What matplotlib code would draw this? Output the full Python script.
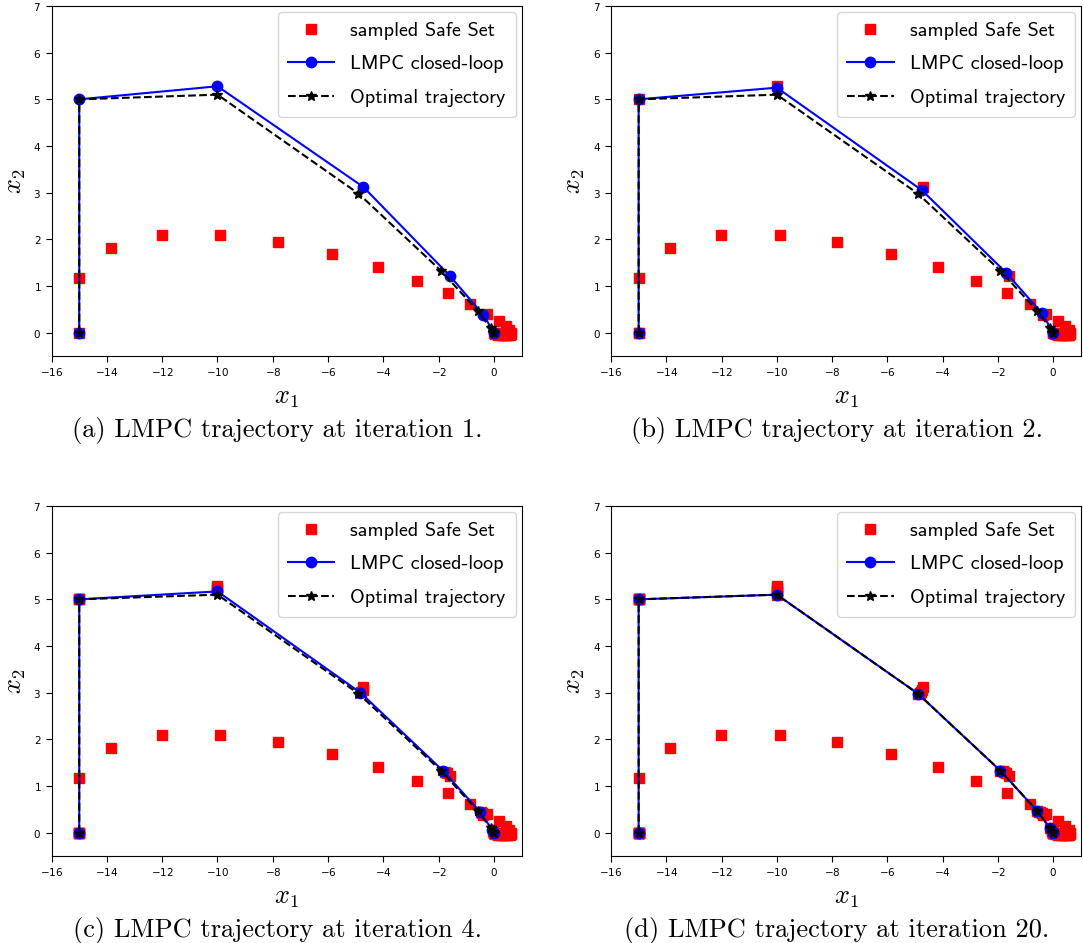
import matplotlib
matplotlib.use("Agg")
import matplotlib.pyplot as plt

plt.rcParams['mathtext.fontset'] = 'cm'
plt.rcParams['axes.formatter.use_mathtext'] = True
plt.rcParams['axes.unicode_minus'] = True

# ---------------- data ----------------
# initial feasible trajectory (iteration 0)
it0_x1 = [-15.0, -15.0, -13.85, -12.02, -9.90, -7.82, -5.86, -4.19, -2.78, -1.66, -0.85, -0.25,
          0.17, 0.42, 0.56, 0.62, 0.62, 0.58, 0.52, 0.45, 0.38, 0.30, 0.23, 0.16, 0.10, 0.05, 0.02, 0.0]
it0_x2 = [0.0, 1.17, 1.81, 2.10, 2.10, 1.94, 1.69, 1.41, 1.11, 0.84, 0.61, 0.39,
          0.25, 0.14, 0.06, 0.00, -0.03, -0.05, -0.06, -0.06, -0.06, -0.05, -0.05, -0.04, -0.03, -0.02, -0.01, 0.0]

# LMPC closed-loop trajectories
it1_x1 = [-15.0, -15.0, -10.0, -4.72, -1.60, -0.38, 0.0]
it1_x2 = [0.0, 5.0, 5.28, 3.12, 1.22, 0.38, 0.0]
it2_x1 = [-15.0, -15.0, -10.0, -4.75, -1.70, -0.42, 0.0]
it2_x2 = [0.0, 5.0, 5.25, 3.05, 1.28, 0.42, 0.0]
it3_x1 = [-15.0, -15.0, -10.0, -4.80, -1.78, -0.48, -0.04, 0.0]
it3_x2 = [0.0, 5.0, 5.20, 3.02, 1.30, 0.44, 0.04, 0.0]
it4_x1 = [-15.0, -15.0, -10.0, -4.83, -1.83, -0.51, -0.06, 0.0]
it4_x2 = [0.0, 5.0, 5.17, 3.00, 1.32, 0.45, 0.06, 0.0]
it20_x1 = [-15.0, -15.0, -10.0, -4.90, -1.92, -0.59, -0.12, -0.02, 0.0]
it20_x2 = [0.0, 5.0, 5.10, 2.98, 1.33, 0.47, 0.10, 0.02, 0.0]

# optimal trajectory
opt_x1 = [-15.0, -15.0, -10.0, -4.90, -1.92, -0.59, -0.12, -0.02, 0.0]
opt_x2 = [0.0, 5.0, 5.10, 2.98, 1.33, 0.47, 0.10, 0.02, 0.0]

xticks = list(range(-16, 1, 2))
yticks = list(range(0, 8))
captions = ["(a) LMPC trajectory at iteration 1.",
            "(b) LMPC trajectory at iteration 2.",
            "(c) LMPC trajectory at iteration 4.",
            "(d) LMPC trajectory at iteration 20."]

# safe sets: stored trajectories used at each displayed iteration
safe_sets = [
    [(it0_x1, it0_x2)],
    [(it0_x1, it0_x2), (it1_x1, it1_x2)],
    [(it0_x1, it0_x2), (it1_x1, it1_x2), (it2_x1, it2_x2), (it3_x1, it3_x2)],
    [(it0_x1, it0_x2), (it1_x1, it1_x2), (it2_x1, it2_x2), (it3_x1, it3_x2),
     (it4_x1, it4_x2), (it20_x1, it20_x2)],
]
closed_loop = [(it1_x1, it1_x2), (it2_x1, it2_x2), (it4_x1, it4_x2), (it20_x1, it20_x2)]

W, H = 1083, 943
fig = plt.figure(figsize=(W / 100, H / 100), dpi=100)

ax_w, ax_h = 470, 350
lefts = [51.6, 611.0]
tops = [6.0, 506.0]

for k in range(4):
    r, c = divmod(k, 2)
    l = lefts[c]
    t = tops[r]
    ax = fig.add_axes([l / W, 1 - (t + ax_h) / H, ax_w / W, ax_h / H])
    first = True
    for sx, sy in safe_sets[k]:
        ax.plot(sx, sy, 's', color='red', ms=6.5, mec='red',
                label='sampled Safe Set' if first else None, zorder=2)
        first = False
    cx, cy = closed_loop[k]
    ax.plot(cx, cy, '-o', color='blue', lw=1.5, ms=7.5, label='LMPC closed-loop', zorder=3)
    ax.plot(opt_x1, opt_x2, '--*', color='black', lw=1.5, ms=7.5, label='Optimal trajectory', zorder=4)
    ax.set_xlim(-16, 1)
    ax.set_ylim(-0.5, 7)
    ax.set_xticks(xticks)
    ax.set_yticks(yticks)
    ax.tick_params(labelsize=7.5, length=4)
    ax.set_xlabel('$x_1$', fontsize=19, labelpad=4)
    ax.set_ylabel('$x_2$', fontsize=19, labelpad=4)
    leg = ax.legend(loc='upper right', prop={'family': 'cmss10', 'size': 14.5},
                    handlelength=2.3, borderaxespad=0.3, labelspacing=0.75, handletextpad=0.8,
                    borderpad=0.5)
    cxp = l + 226
    fig.text(cxp / W, 1 - (t + 424) / H, captions[k], ha='center', va='center',
             family='cmr10', fontsize=19)

fig.savefig('out.png', dpi=100)
